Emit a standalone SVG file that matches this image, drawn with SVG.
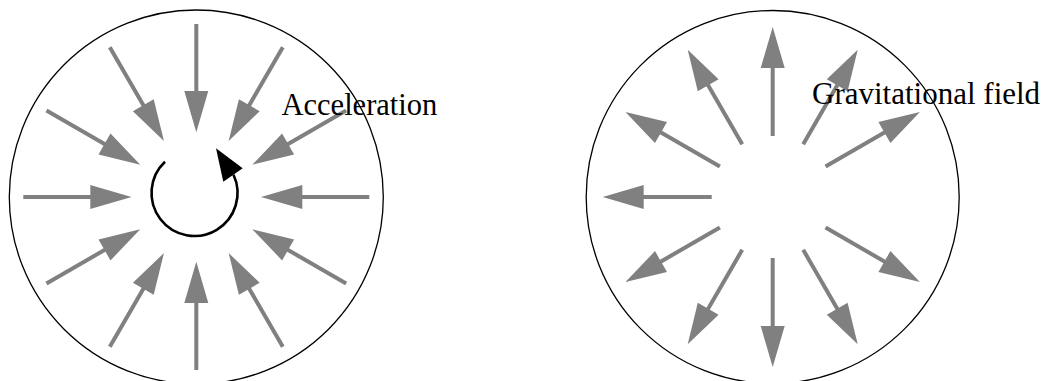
<svg xmlns="http://www.w3.org/2000/svg" xmlns:xlink="http://www.w3.org/1999/xlink" width="1047" height="381" viewBox="0 0 1047 381">
<style>
.ring{fill:none;stroke:#000;stroke-width:1.3}
.shaft{stroke:#808080;stroke-width:4;fill:none}
.head{fill:#808080;stroke:none}
.lbl{font-family:"Liberation Serif","Times New Roman",serif;font-size:30.5px;fill:#000}
</style>
<defs>
<g id="inArrow">
<line class="shaft" x1="173" y1="0" x2="105" y2="0"/>
<polygon class="head" points="106,-12 106,12 64.7,0"/>
</g>
<g id="outArrow">
<line class="shaft" x1="61" y1="0" x2="130" y2="0"/>
<polygon class="head" points="129,-12 129,12 170,0"/>
</g>
</defs>
<rect width="1047" height="381" fill="#fff"/>
<g id="acceleration-panel">
<circle class="ring" cx="196.3" cy="197" r="187"/>
<g id="inward-arrows" transform="translate(196.3,197)">
<use xlink:href="#inArrow" href="#inArrow" transform="rotate(0)"/>
<use xlink:href="#inArrow" href="#inArrow" transform="rotate(30)"/>
<use xlink:href="#inArrow" href="#inArrow" transform="rotate(60)"/>
<use xlink:href="#inArrow" href="#inArrow" transform="rotate(90)"/>
<use xlink:href="#inArrow" href="#inArrow" transform="rotate(120)"/>
<use xlink:href="#inArrow" href="#inArrow" transform="rotate(150)"/>
<use xlink:href="#inArrow" href="#inArrow" transform="rotate(180)"/>
<use xlink:href="#inArrow" href="#inArrow" transform="rotate(210)"/>
<use xlink:href="#inArrow" href="#inArrow" transform="rotate(240)"/>
<use xlink:href="#inArrow" href="#inArrow" transform="rotate(270)"/>
<use xlink:href="#inArrow" href="#inArrow" transform="rotate(300)"/>
<use xlink:href="#inArrow" href="#inArrow" transform="rotate(330)"/>
</g>
<g id="rotation-arrow">
<path d="M165,161.7 A43,43 0 1 0 233.5,174.8" fill="none" stroke="#000" stroke-width="2.6"/>
<polygon points="216,148.3 242.7,168.3 223.3,181.7" fill="#000"/>
</g>
<text class="lbl" x="281.5" y="114.5">Acceleration</text>
</g>
<g id="gravitational-panel">
<circle class="ring" cx="772.7" cy="197" r="186.5"/>
<g id="outward-arrows" transform="translate(772.7,197)">
<use xlink:href="#outArrow" href="#outArrow" transform="rotate(30)"/>
<use xlink:href="#outArrow" href="#outArrow" transform="rotate(60)"/>
<use xlink:href="#outArrow" href="#outArrow" transform="rotate(90)"/>
<use xlink:href="#outArrow" href="#outArrow" transform="rotate(120)"/>
<use xlink:href="#outArrow" href="#outArrow" transform="rotate(150)"/>
<use xlink:href="#outArrow" href="#outArrow" transform="rotate(180)"/>
<use xlink:href="#outArrow" href="#outArrow" transform="rotate(210)"/>
<use xlink:href="#outArrow" href="#outArrow" transform="rotate(240)"/>
<use xlink:href="#outArrow" href="#outArrow" transform="rotate(270)"/>
<use xlink:href="#outArrow" href="#outArrow" transform="rotate(300)"/>
<use xlink:href="#outArrow" href="#outArrow" transform="rotate(330)"/>
</g>
<text class="lbl" x="812" y="104.3" style="font-size:31px">Gravitational field</text>
</g>
</svg>
